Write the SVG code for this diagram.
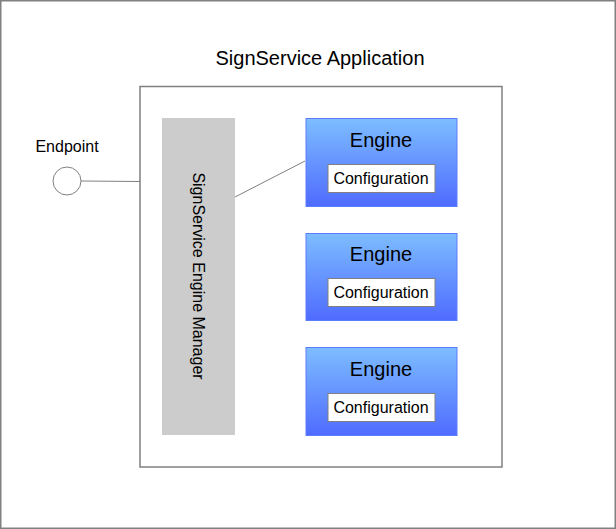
<svg xmlns="http://www.w3.org/2000/svg" width="616" height="529" viewBox="0 0 616 529">
<style>
text{font-family:"Liberation Sans",Arial,sans-serif;fill:#000}
.box{fill:#fff;stroke:#808080;stroke-width:1.5}
.eng{fill:url(#g);stroke:#5c7cff;stroke-width:1}
.cfg{fill:#fff;stroke:#808080;stroke-width:1}
.conn{stroke:#808080;stroke-width:1;fill:none}
.et{font-size:20px}
.ct{font-size:16px}
</style>
<defs>
<linearGradient id="g" x1="0" y1="0" x2="0" y2="1">
<stop offset="0" stop-color="#7dbdff"/>
<stop offset="1" stop-color="#4f6bff"/>
</linearGradient>
</defs>
<g id="outer"><rect x="0.75" y="0.75" width="614.5" height="527.5" class="box"/></g>
<g id="app">
<rect x="140" y="86.5" width="362" height="380.5" class="box"/>
<text x="320" y="65" font-size="20" text-anchor="middle">SignService Application</text>
</g>
<g id="manager">
<rect x="162" y="118" width="73" height="317" fill="#cccccc"/>
<text transform="translate(193,276) rotate(90)" font-size="16" text-anchor="middle">SignService Engine Manager</text>
</g>
<g id="endpoint">
<circle cx="67" cy="181" r="14" fill="#fff" stroke="#808080" stroke-width="1"/>
<text x="67" y="152" font-size="16" text-anchor="middle">Endpoint</text>
</g>
<g id="engine1">
<rect x="306" y="118.5" width="151" height="88" class="eng"/>
<text x="381" y="147" class="et" text-anchor="middle">Engine</text>
<rect x="328" y="164.5" width="107" height="28" class="cfg"/>
<text x="381" y="183.5" class="ct" text-anchor="middle">Configuration</text>
</g>
<g id="engine2">
<rect x="306" y="233.5" width="151" height="87" class="eng"/>
<text x="381" y="261" class="et" text-anchor="middle">Engine</text>
<rect x="328" y="278.5" width="107" height="28" class="cfg"/>
<text x="381" y="297.5" class="ct" text-anchor="middle">Configuration</text>
</g>
<g id="engine3">
<rect x="306" y="347.5" width="151" height="88" class="eng"/>
<text x="381" y="376" class="et" text-anchor="middle">Engine</text>
<rect x="328" y="393.5" width="107" height="28" class="cfg"/>
<text x="381" y="412.5" class="ct" text-anchor="middle">Configuration</text>
</g>
<g id="connectors">
<line x1="81" y1="181" x2="140" y2="181.5" class="conn"/>
<line x1="235" y1="197" x2="305" y2="161" class="conn"/>
</g>
</svg>
